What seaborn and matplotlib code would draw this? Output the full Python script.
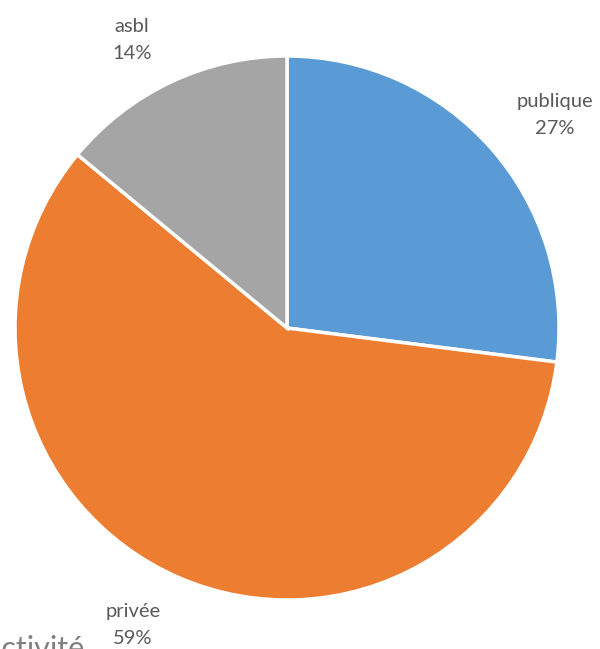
import matplotlib
matplotlib.use("Agg")
import matplotlib.pyplot as plt
import seaborn as sns

sns.set_style("white")
plt.rcParams['font.family'] = ['Lato', 'DejaVu Sans']

categories = ["publique", "privée", "asbl"]
shares = [27, 59, 14]
colors = ["#5B9BD5", "#ED7D31", "#A5A5A5"]
# label anchor points in axis units (radius = 1)
label_pos = [(0.985, 0.783), (-0.566, -1.092), (-0.570, 1.059)]

W, H = 600, 649
fig = plt.figure(figsize=(W / 100, H / 100), dpi=100)
cx, cy, r = 287, 328, 272
ax = fig.add_axes([(cx - r) / W, 1 - (cy + r) / H, 2 * r / W, 2 * r / H])

ax.pie(shares, colors=colors, startangle=90, counterclock=False, radius=1,
       wedgeprops=dict(edgecolor="white", linewidth=2.5))
ax.set_xlim(-1, 1)
ax.set_ylim(-1, 1)
ax.set_aspect("auto")
ax.axis("off")

for cat, val, (x, y) in zip(categories, shares, label_pos):
    ax.text(x, y, f"{cat}\n{val}%", ha="center", va="center", fontsize=14.5,
            color="#595959", linespacing=1.75, clip_on=False)

# chart title, running off the lower-left corner of the canvas
fig.text(84 / W, 1 - 658 / H, "Secteur d'activité", ha="right", va="baseline",
         fontsize=22, color="#808080")

fig.savefig("out.png", dpi=100)
